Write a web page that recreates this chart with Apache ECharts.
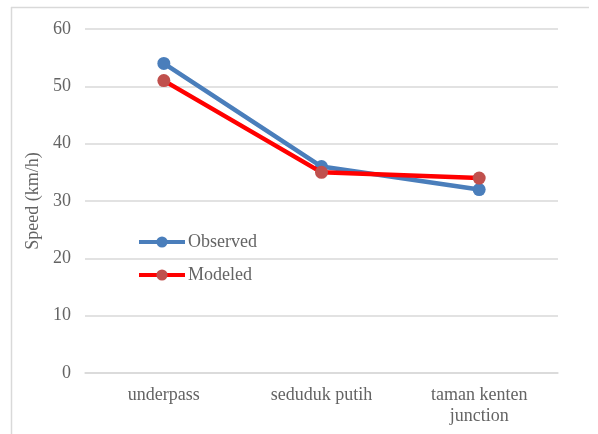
<!DOCTYPE html>
<html>
<head>
<meta charset="utf-8">
<script src="https://cdn.jsdelivr.net/npm/echarts@6/dist/echarts.min.js"></script>
<style>
html,body{margin:0;padding:0;background:#fff;}
#c{width:598px;height:434px;}
</style>
</head>
<body>
<div id="c"></div>
<script>
const categories = ['underpass', 'seduduk putih', 'taman kenten\njunction'];
const observed = [54, 36, 32];
const modeled = [51, 35, 34];
const yTicks = { min: 0, max: 60, interval: 10 };

const chart = echarts.init(document.getElementById('c'));
const font = 'Liberation Serif';
const txt = '#646464';
chart.setOption({
  animation: false,
  backgroundColor: '#fff',
  graphic: [
    { type: 'line', shape: { x1: 11, y1: 7.5, x2: 589, y2: 7.5 }, style: { stroke: '#d9d9d9', lineWidth: 1.5 } },
    { type: 'line', shape: { x1: 11.5, y1: 7, x2: 11.5, y2: 434 }, style: { stroke: '#d9d9d9', lineWidth: 1.5 } }
  ],
  grid: { left: 85, right: 40, top: 29, bottom: 61, containLabel: false },
  legend: {
    orient: 'vertical',
    left: 132,
    top: 228,
    itemGap: 15,
    itemWidth: 46,
    itemHeight: 14,
    lineStyle: { width: 4 },
    textStyle: { fontFamily: font, fontSize: 18, color: txt, padding: [0, 0, 0, -2] },
    data: ['Observed', 'Modeled']
  },
  xAxis: {
    type: 'category',
    data: categories,
    boundaryGap: true,
    axisLine: { show: true, lineStyle: { color: '#d9d9d9', width: 1.5 } },
    axisTick: { show: false },
    axisLabel: { fontFamily: font, fontSize: 18, color: txt, margin: 12, lineHeight: 21 }
  },
  yAxis: {
    type: 'value',
    min: yTicks.min, max: yTicks.max, interval: yTicks.interval,
    name: 'Speed (km/h)',
    nameLocation: 'middle',
    nameGap: 38,
    nameTextStyle: { fontFamily: font, fontSize: 18, color: txt },
    axisLine: { show: false },
    axisTick: { show: false },
    axisLabel: { fontFamily: font, fontSize: 18, color: txt, margin: 14 },
    splitLine: { lineStyle: { color: '#d9d9d9', width: 1.5 } }
  },
  series: [
    {
      name: 'Observed', type: 'line', data: observed,
      symbol: 'circle', symbolSize: 13,
      lineStyle: { color: '#4a7ebb', width: 4.5 },
      itemStyle: { color: '#4a7ebb' },
      z: 3
    },
    {
      name: 'Modeled', type: 'line', data: modeled,
      symbol: 'circle', symbolSize: 13,
      lineStyle: { color: '#ff0000', width: 4.5 },
      itemStyle: { color: '#c0504d' },
      z: 4
    }
  ]
});
</script>
</body>
</html>
